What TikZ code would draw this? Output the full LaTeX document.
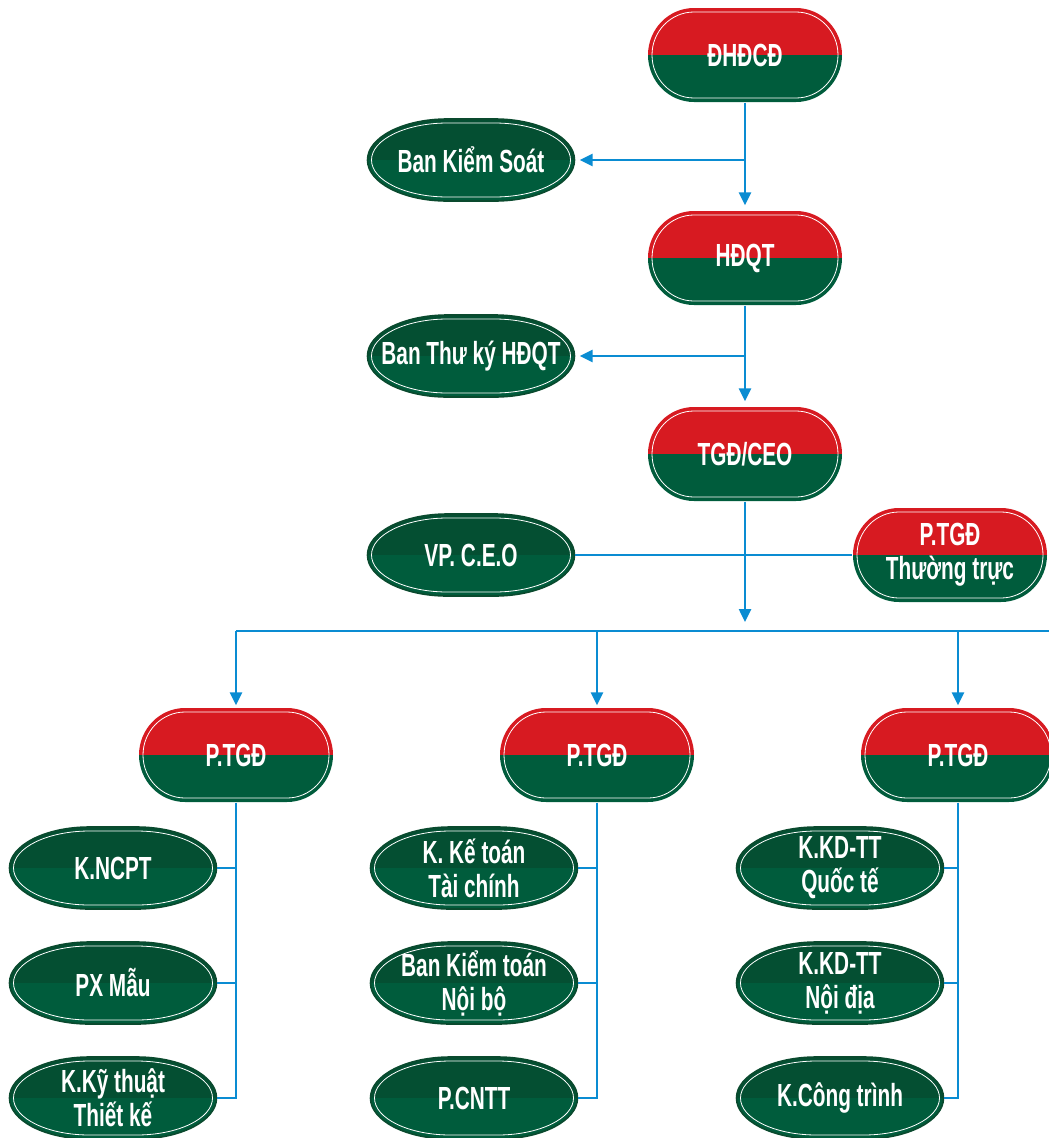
\documentclass[tikz,border=0pt]{standalone}
\usepackage{fontspec}
\usetikzlibrary{arrows.meta,backgrounds}
\newfontfamily\orgfont{Liberation Sans}[FakeStretch=0.65]
\definecolor{boardred}{HTML}{D71A21}
\definecolor{boardgreen}{HTML}{005C3C}
\definecolor{depttop}{HTML}{044F32}
\definecolor{deptedge}{HTML}{0A4A2E}
\definecolor{linkblue}{HTML}{0A8CD2}
\newcommand\setcapsule[3]{%
  \pgfmathsetmacro\capA{#1}\pgfmathsetmacro\capB{#2}\pgfmathsetmacro\capR{#3}%
  \pgfmathsetmacro\capS{\capA-\capR}\pgfmathsetmacro\capC{\capA-0.448*\capR}%
  \pgfmathsetmacro\capD{0.552*\capB}%
  \edef\capsule{(-\capA,0) .. controls (-\capA,-\capD) and (-\capC,-\capB) .. (-\capS,-\capB)
    -- (\capS,-\capB) .. controls (\capC,-\capB) and (\capA,-\capD) .. (\capA,0)
    .. controls (\capA,\capD) and (\capC,\capB) .. (\capS,\capB)
    -- (-\capS,\capB) .. controls (-\capC,\capB) and (-\capA,\capD) .. (-\capA,0) -- cycle}}
\newcommand\orgback[7]{%
  \begin{scope}[shift={(#1)}]
    \setcapsule{#2}{#3}{#4}
    \begin{scope}
      \clip \capsule;
      \fill[#5] (-#2-2,-#3-2) rectangle (#2+2,0);
      \fill[#6] (-#2-2,0) rectangle (#2+2,#3+2);
    \end{scope}
    \path[draw=#7,line width=1.6pt] \capsule;
    \setcapsule{#2-4}{#3-4}{#4-4}
    \draw[white,line width=0.8pt] \capsule;
  \end{scope}}

\begin{document}
\begin{tikzpicture}[x=1pt,y=-1pt,
  board/.style={minimum width=195pt,minimum height=95pt,inner sep=0pt,text=white,align=center,
    font=\orgfont\bfseries\fontsize{32}{34}\selectfont},
  dept/.style={board,minimum width=207pt,minimum height=82pt},
  link/.style={color=linkblue,line width=2.5pt},
  feed/.style={link,-{Triangle[length=13pt,width=12pt]},shorten >=#1},
  feed/.default=3pt]
  \useasboundingbox (0,0) rectangle (1049,1138);
  % top of the chart
  \node[board] (dhcd) at (745,55) {ĐHĐCĐ};
  \node[board] (hdqt) at (745,258) {HĐQT};
  \node[board] (tgd) at (745,454) {TGĐ/CEO};
  \node[dept] (bks) at (471,160) {Ban Kiểm Soát};
  \node[dept] (btk) at (471,356) {Ban Thư ký HĐQT};
  \node[dept] (vpceo) at (471,555) {VP. C.E.O};
  \node[board] (ptgdtt) at (950,555) {P.TGĐ\\Thường trực};
  % deputies
  \node[board] (ptgda) at (236,755) {P.TGĐ};
  \node[board] (ptgdb) at (597,755) {P.TGĐ};
  \node[board] (ptgdc) at (958,755) {P.TGĐ};
  % departments
  \node[dept] (kncpt) at (113,868) {K.NCPT};
  \node[dept] (pxmau) at (113,983) {PX Mẫu};
  \node[dept] (kkt) at (113,1098) {K.Kỹ thuật\\Thiết kế};
  \node[dept] (kkttc) at (474,868) {K. Kế toán\\Tài chính};
  \node[dept] (bktnb) at (474,983) {Ban Kiểm toán\\Nội bộ};
  \node[dept] (pcntt) at (474,1098) {P.CNTT};
  \node[dept] (kkdqt) at (840,868) {K.KD-TT\\Quốc tế};
  \node[dept] (kkdnd) at (840,983) {K.KD-TT\\Nội địa};
  \node[dept] (kct) at (840,1098) {K.Công trình};
  \begin{scope}[on background layer]
    \foreach \n in {dhcd,hdqt,tgd,ptgdtt,ptgda,ptgdb,ptgdc}
      \orgback{\n}{97}{47}{46}{boardred}{boardgreen}{none};
    \foreach \n in {bks,btk,vpceo,kncpt,pxmau,kkt,kkttc,bktnb,pcntt,kkdqt,kkdnd,kct}
      \orgback{\n}{103.5}{41}{80}{depttop}{boardgreen}{deptedge};
  \end{scope}
  % connectors
  \coordinate (bus) at (745,631);
  \coordinate (busend) at (1049,631);
  \path[feed=5pt]
    (dhcd) edge (hdqt)
    (hdqt) edge (tgd)
    (tgd) edge[shorten >=9pt] (bus)
    (dhcd |- bks) edge (bks)
    (hdqt |- btk) edge (btk);
  \draw[link] (vpceo) -- (ptgdtt);
  \draw[link] (ptgda.north |- bus) -- (busend);
  \path[feed=2pt]
    (ptgda.north |- bus) edge (ptgda)
    (ptgdb.north |- bus) edge (ptgdb)
    (ptgdc.north |- bus) edge (ptgdc);
  \foreach \p/\k in {ptgda/kkt,ptgdb/pcntt,ptgdc/kct}
    \draw[link] (\p) |- (\k);
  \foreach \p/\k in {ptgda/kncpt,ptgda/pxmau,ptgdb/kkttc,ptgdb/bktnb,ptgdc/kkdqt,ptgdc/kkdnd}
    \draw[link] (\k) -- (\k -| \p);
\end{tikzpicture}
\end{document}
